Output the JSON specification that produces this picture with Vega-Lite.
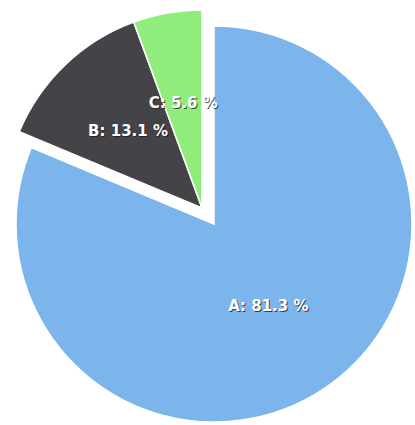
{
  "$schema": "https://vega.github.io/schema/vega-lite/v6.json",
  "width": 396,
  "height": 396,
  "autosize": {"type": "none"},
  "padding": {"left": 16, "top": 26, "right": 3, "bottom": 3},
  "background": "white",
  "view": {"stroke": null},
  "data": {
    "values": [
      {"name": "A", "share": 81.3, "label": "A: 81.3 %"},
      {"name": "B", "share": 13.1, "label": "B: 13.1 %"},
      {"name": "C", "share": 5.6, "label": "C: 5.6 %"}
    ]
  },
  "encoding": {
    "theta": {"field": "share", "type": "quantitative", "stack": true},
    "order": {"field": "name", "type": "nominal"}
  },
  "layer": [
    {
      "mark": {"type": "arc", "stroke": "white", "strokeWidth": 1.5},
      "encoding": {
        "color": {"field": "name", "type": "nominal", "scale": {"domain": ["A", "B", "C"], "range": ["#7cb5ec", "#434348", "#90ed7d"]}, "legend": null},
        "opacity": {"condition": {"test": "datum.name === 'A'", "value": 1}, "value": 0}
      }
    },
    {
      "mark": {"type": "arc", "stroke": "white", "strokeWidth": 1.5, "xOffset": -12, "yOffset": -16},
      "encoding": {
        "color": {"field": "name", "type": "nominal", "scale": {"domain": ["A", "B", "C"], "range": ["#7cb5ec", "#434348", "#90ed7d"]}, "legend": null},
        "opacity": {"condition": {"test": "datum.name === 'A'", "value": 0}, "value": 1}
      }
    },
    {
      "mark": {"type": "text", "radius": 98, "dx": 1, "dy": 1, "font": "DejaVu Sans", "fontWeight": "bold", "fontSize": 15, "fill": "#1a1a1a"},
      "encoding": {
        "text": {"field": "label"},
        "opacity": {"condition": {"test": "datum.name === 'A'", "value": 0.75}, "value": 0}
      }
    },
    {
      "mark": {"type": "text", "radius": 98, "font": "DejaVu Sans", "fontWeight": "bold", "fontSize": 15, "fill": "white"},
      "encoding": {
        "text": {"field": "label"},
        "opacity": {"condition": {"test": "datum.name === 'A'", "value": 1}, "value": 0}
      }
    },
    {
      "mark": {"type": "text", "radius": 107, "dx": 1, "dy": 1, "xOffset": -12, "yOffset": -16, "font": "DejaVu Sans", "fontWeight": "bold", "fontSize": 15, "fill": "#1a1a1a"},
      "encoding": {
        "text": {"field": "label"},
        "opacity": {"condition": {"test": "datum.name === 'A'", "value": 0}, "value": 0.75}
      }
    },
    {
      "mark": {"type": "text", "radius": 107, "xOffset": -12, "yOffset": -16, "font": "DejaVu Sans", "fontWeight": "bold", "fontSize": 15, "fill": "white"},
      "encoding": {
        "text": {"field": "label"},
        "opacity": {"condition": {"test": "datum.name === 'A'", "value": 0}, "value": 1}
      }
    }
  ]
}
